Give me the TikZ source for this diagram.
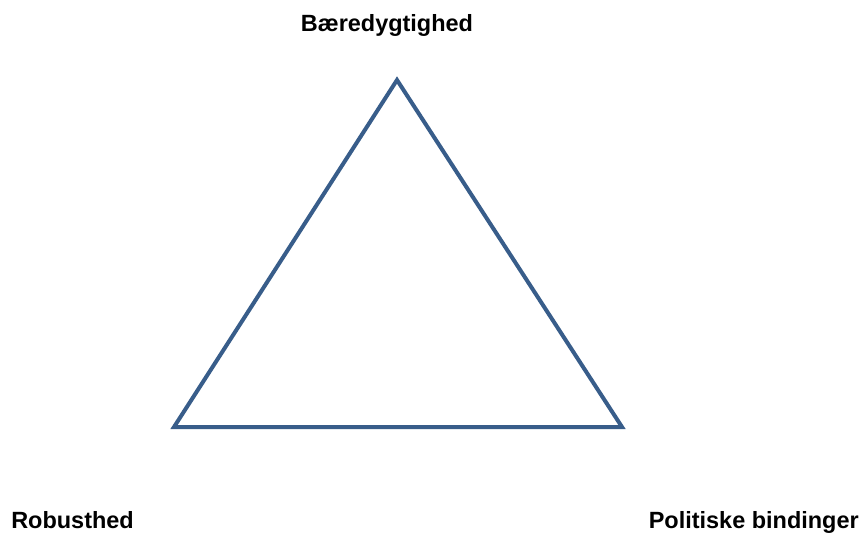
\documentclass[tikz,border=0pt]{standalone}
\usepackage{fontspec}
\setmainfont{Liberation Sans}
\usepackage{xcolor}
\usepackage{tikz}
\usetikzlibrary{calc,positioning}
\definecolor{edgec}{HTML}{385D8A}
\tikzset{
  side/.style={draw=edgec,line width=3pt,line join=miter},
  lbl/.style={font=\fontsize{17.6}{21}\selectfont\bfseries,inner sep=0pt,text=black}
}
\begin{document}
\begin{tikzpicture}[x=0.75pt,y=-0.75pt]
\useasboundingbox (0,0) rectangle (863,532);
\coordinate (top) at (397,80); \coordinate (bl) at (174,427); \coordinate (br) at (622,427);
\draw[side] (top)--(bl)--(br)--cycle;
\node[lbl,anchor=base] (baer) at (387,31) {Bæredygtighed};
\node[lbl,anchor=base west] (robust) at (11,528) {Robusthed};
\node[lbl,anchor=base east] (polit) at (859,528) {Politiske bindinger};
\end{tikzpicture}
\end{document}
